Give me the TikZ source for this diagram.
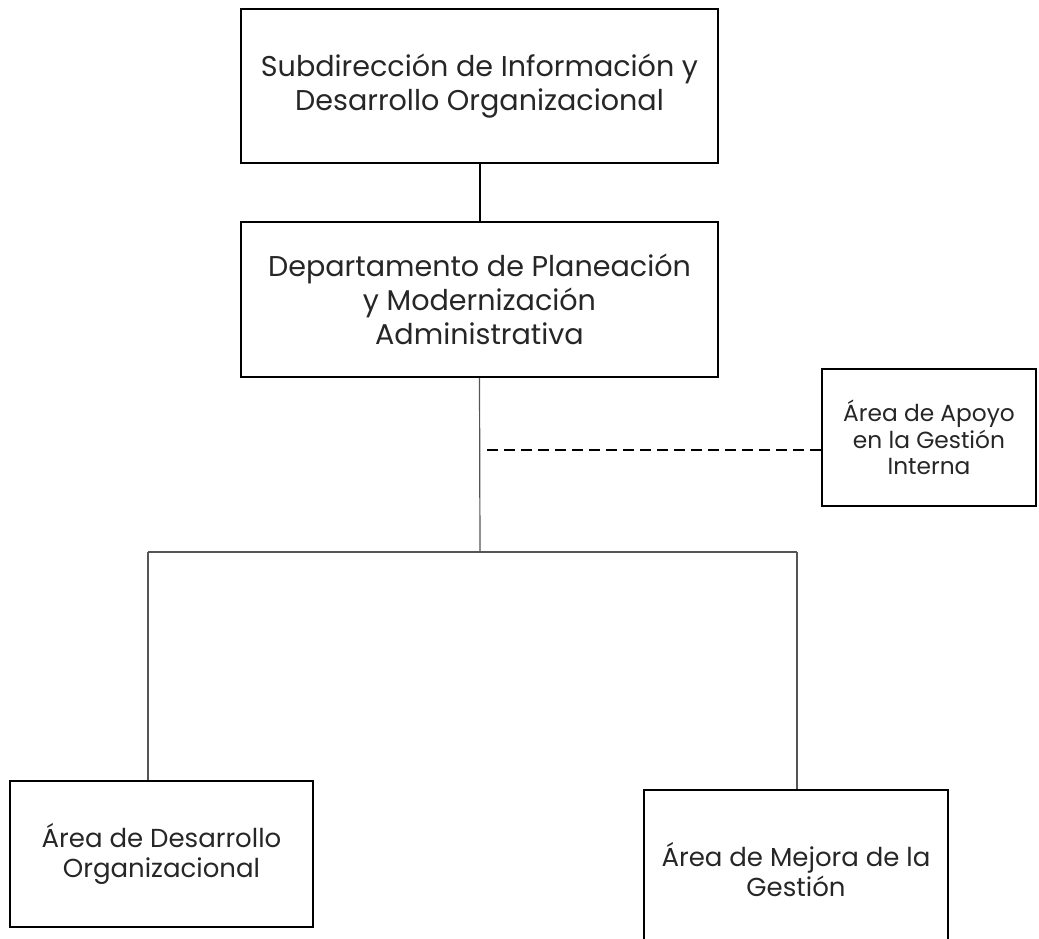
\documentclass[tikz,border=0pt]{standalone}
\usepackage{fontspec}
\setmainfont{Poppins}
\definecolor{txtgray}{HTML}{262626}
\definecolor{linegray}{HTML}{555555}

\begin{document}
\begin{tikzpicture}[x=1pt,y=-1pt,
  box/.style={draw,line width=2pt,align=center,text=txtgray,inner sep=0pt},
  bigtxt/.style={font=\fontsize{28.6}{34}\selectfont},
  smalltxt/.style={font=\fontsize{26}{30}\selectfont},
  tinytxt/.style={font=\fontsize{23.3}{26.5}\selectfont},
  thin line/.style={line width=1.2pt,draw=linegray}]
\useasboundingbox (0,0) rectangle (1039,939);

% cajas
\node [box,bigtxt,minimum width=477pt,minimum height=154pt] (sub) at (479.5,86)
  {Subdirección de Información y\\Desarrollo Organizacional};
\node [box,bigtxt,minimum width=477pt,minimum height=155pt] (dep) at (479.5,299.5)
  {Departamento de Planeación\\y Modernización\\Administrativa};
\node [box,tinytxt,minimum width=214pt,minimum height=137pt] (apo) at (929,437.5)
  {Área de Apoyo\\en la Gestión\\Interna};
\node [box,smalltxt,minimum width=303pt,minimum height=146pt] (ado) at (161.5,854)
  {Área de Desarrollo\\Organizacional};
\node [box,smalltxt,minimum width=304pt,minimum height=160pt] (amg) at (796,870)
  {Área de Mejora de la\\Gestión};

% lineas
\coordinate (bus) at (480,552);
\coordinate (busl) at (148,552);
\coordinate (busr) at (797,552);
\coordinate (dsh) at (487,450);
\draw [line width=2pt] (sub.south) -- (dep.north);
\draw [thin line] (dep.south) -- (bus);
\draw [thin line] (busl) -- (busr);
\draw [thin line] (busl) -- (busl |- ado.north);
\draw [thin line] (busr) -- (busr |- amg.north);
\draw [line width=2.6pt,dash pattern=on 11pt off 6pt] (dsh) -- (dsh -| apo.west);
\end{tikzpicture}
\end{document}
